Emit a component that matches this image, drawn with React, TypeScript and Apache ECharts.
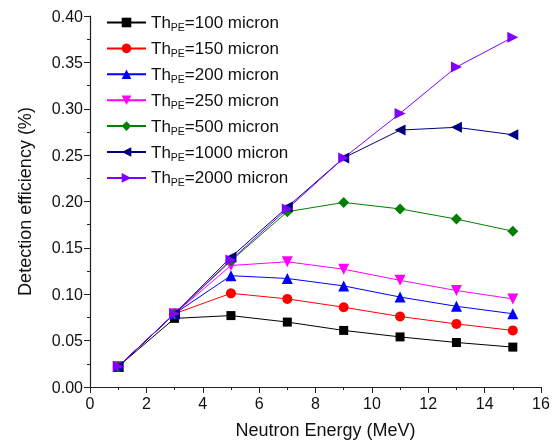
import React, { useEffect, useRef } from "react";
import * as echarts from "echarts";

const energies = [1, 3, 5, 7, 9, 11, 13, 15];
const th100 = [0.022, 0.074, 0.077, 0.070, 0.061, 0.054, 0.048, 0.043];
const th150 = [0.022, 0.079, 0.101, 0.095, 0.086, 0.076, 0.068, 0.061];
const th200 = [0.022, 0.079, 0.120, 0.117, 0.109, 0.097, 0.087, 0.079];
const th250 = [0.022, 0.079, 0.131, 0.135, 0.127, 0.115, 0.104, 0.095];
const th500 = [0.022, 0.079, 0.136, 0.189, 0.199, 0.192, 0.181, 0.168];
const th1000 = [0.022, 0.079, 0.140, 0.194, 0.247, 0.277, 0.280, 0.272];
const th2000 = [0.022, 0.079, 0.137, 0.192, 0.247, 0.295, 0.345, 0.377];
const thicknesses = ["100", "150", "200", "250", "500", "1000", "2000"];

const FONT = "Liberation Sans, Arial, sans-serif";

export default function App() {
  const ref = useRef<HTMLDivElement>(null);
  useEffect(() => {
    const chart = echarts.init(ref.current!, null, { renderer: "svg" });
    const seriesDefs = [
      { data: th100, color: "#000000", symbol: "rect", size: 9 },
      { data: th150, color: "#ff0000", symbol: "circle", size: 10 },
      { data: th200, color: "#0000ff", symbol: "triangle", size: 11 },
      { data: th250, color: "#ff00ff", symbol: "path://M0,0 L10,0 L5,9 Z", size: 11 },
      { data: th500, color: "#008000", symbol: "diamond", size: 11 },
      { data: th1000, color: "#000080", symbol: "path://M9,0 L9,10 L0,5 Z", size: 11 },
      { data: th2000, color: "#8000ff", symbol: "path://M0,0 L0,10 L9,5 Z", size: 11 },
    ];
    const names = thicknesses.map((t) => "Th_" + t);
    chart.setOption({
      animation: false,
      textStyle: { fontFamily: FONT },
      grid: { left: 90, right: 15, top: 16, bottom: 58 },
      legend: {
        orient: "vertical",
        left: 101,
        top: 9,
        itemWidth: 39,
        itemHeight: 12,
        itemGap: 7.4,
        data: names,
        formatter: (n: string) => "{a|Th}{s|PE}{a|=" + n.split("_")[1] + " micron}",
        textStyle: {
          fontFamily: FONT,
          color: "#111",
          rich: {
            a: { fontSize: 17, fontFamily: FONT, color: "#111", lineHeight: 20 },
            s: { fontSize: 10.5, fontFamily: FONT, color: "#111", verticalAlign: "bottom", lineHeight: 14, padding: [6, 0, 0, 0] },
          },
        },
      },
      xAxis: {
        type: "value",
        min: 0,
        max: 16,
        interval: 2,
        name: "Neutron Energy (MeV)",
        nameLocation: "middle",
        nameGap: 34,
        nameTextStyle: { fontSize: 18, color: "#111", fontFamily: FONT, padding: [0, 0, 0, 20] },
        axisLine: { lineStyle: { color: "#222", width: 1.2 } },
        axisTick: { inside: false, length: 6, lineStyle: { color: "#222" } },
        minorTick: { show: true, splitNumber: 2, length: 3, lineStyle: { color: "#222" } },
        axisLabel: { fontSize: 16, color: "#111", margin: 8 },
        splitLine: { show: false },
      },
      yAxis: {
        type: "value",
        min: 0,
        max: 0.4,
        interval: 0.05,
        name: "Detection efficiency (%)",
        nameLocation: "middle",
        nameGap: 56,
        nameTextStyle: { fontSize: 18, color: "#111", fontFamily: FONT },
        axisLine: { show: true, lineStyle: { color: "#222", width: 1.2 } },
        axisTick: { show: true, inside: false, length: 6, lineStyle: { color: "#222" } },
        minorTick: { show: true, splitNumber: 2, length: 3, lineStyle: { color: "#222" } },
        axisLabel: { fontSize: 16, color: "#111", margin: 7, formatter: (v: number) => v.toFixed(2) },
        splitLine: { show: false },
      },
      series: seriesDefs.map((s, i) => ({
        name: names[i],
        type: "line",
        data: energies.map((e, j) => [e, s.data[j]]),
        symbol: s.symbol,
        symbolSize: s.size,
        itemStyle: { color: s.color },
        lineStyle: { color: s.color, width: 1 },
      })),
    });
    return () => chart.dispose();
  }, []);
  return <div ref={ref} style={{ position: "fixed", left: 0, top: 0, width: 556, height: 445 }} />;
}
